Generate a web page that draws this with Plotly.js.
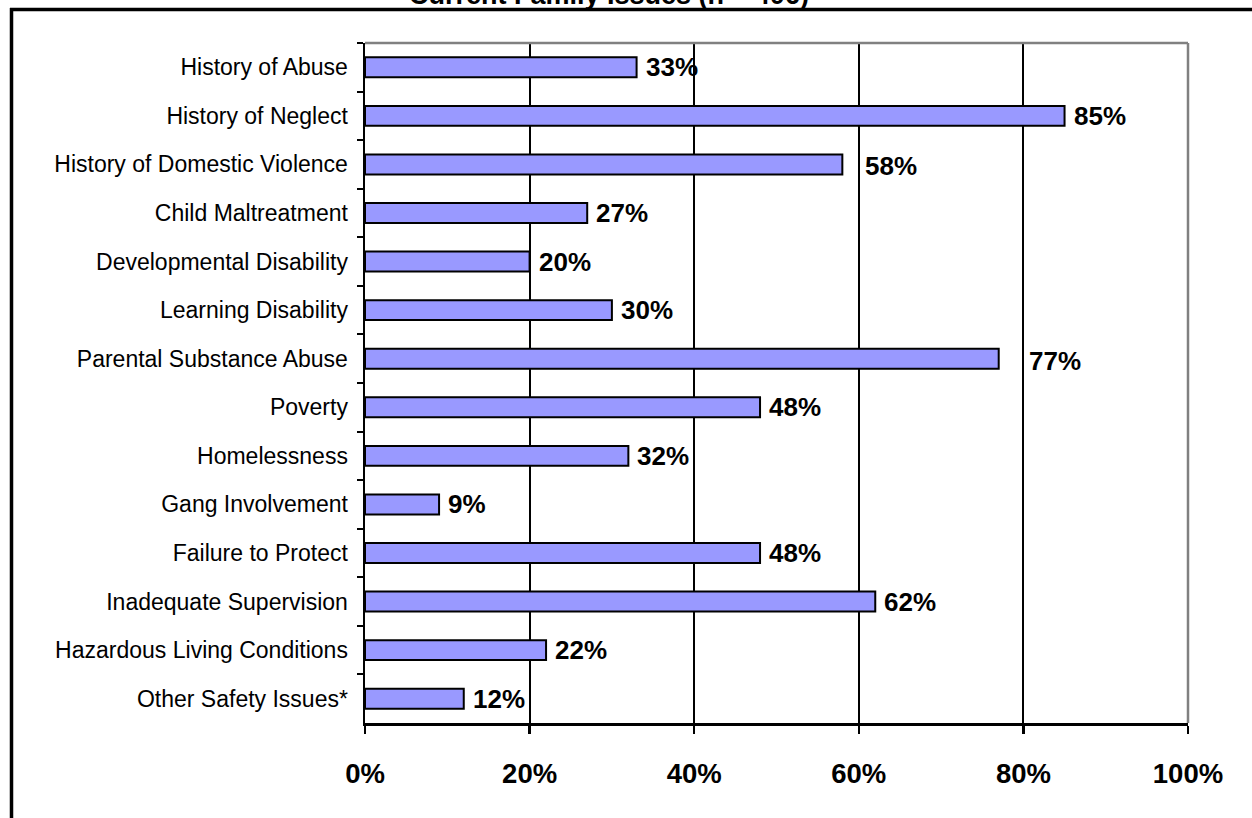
<!DOCTYPE html>
<html>
<head>
<meta charset="utf-8">
<script src="https://cdn.plot.ly/plotly-3.0.1.min.js"></script>
<style>
  html, body { margin: 0; padding: 0; background: #fff; }
  #chart { width: 1252px; height: 818px; }
</style>
</head>
<body>
<div id="chart"></div>
<script>
const titleText = "Current Family Issues (n = 406)";
const categories = [
  "History of Abuse",
  "History of Neglect",
  "History of Domestic Violence",
  "Child Maltreatment",
  "Developmental Disability",
  "Learning Disability",
  "Parental Substance Abuse",
  "Poverty",
  "Homelessness",
  "Gang Involvement",
  "Failure to Protect",
  "Inadequate Supervision",
  "Hazardous Living Conditions",
  "Other Safety Issues*"
];
const percents = [33, 85, 58, 27, 20, 30, 77, 48, 32, 9, 48, 62, 22, 12];
const tickValues = [0, 20, 40, 60, 80, 100];

const W = 1252, H = 818;
const L = 365, R = 1188, T = 43, B = 723;
const px2x = p => (p - L) / (R - L);
const px2y = p => (B - p) / (B - T);
const FONT = 'Liberation Sans, Arial, sans-serif';

const trace = {
  type: 'bar',
  orientation: 'h',
  y: categories,
  x: percents,
  marker: { color: '#9999FF', line: { color: '#000000', width: 2 } },
  cliponaxis: false,
  hoverinfo: 'skip'
};

// value labels: placed after the bar end; if a gridline sits just past the
// bar end, the label is moved to the right of that gridline (as in the original)
const valueLabels = percents.map((v, i) => {
  const nextGrid = tickValues.find(t => t > v);
  const clash = nextGrid !== undefined && nextGrid - v < 5;
  return {
    xref: 'x', yref: 'y',
    x: clash ? nextGrid : v, y: categories[i],
    text: '<b>' + v + '%</b>',
    xanchor: 'left', yanchor: 'middle',
    xshift: clash ? 4 : 7,
    yshift: clash ? -2 : 0,
    showarrow: false,
    font: { family: FONT, size: 26, color: '#000' }
  };
});

const layout = {
  width: W, height: H,
  margin: { l: L, r: W - R, t: T, b: H - B, pad: 0 },
  paper_bgcolor: '#ffffff',
  plot_bgcolor: '#ffffff',
  showlegend: false,
  bargap: 0.59,
  font: { family: FONT, color: '#000' },
  xaxis: {
    range: [0, 100],
    tickvals: tickValues,
    ticktext: tickValues.map(v => v + '%'),
    showgrid: true, gridcolor: '#000', gridwidth: 2,
    zeroline: false,
    showline: true, linecolor: '#000', linewidth: 2.5,
    ticks: 'outside', ticklen: 8, tickwidth: 2.5, tickcolor: '#000',
    ticklabelstandoff: 16,
    tickfont: { family: FONT, size: 27.5, color: '#000', weight: 'bold' },
    fixedrange: true
  },
  yaxis: {
    type: 'category',
    autorange: 'reversed',
    showline: true, linecolor: '#000', linewidth: 2.5,
    ticks: 'outside', ticklen: 6, tickwidth: 2, tickcolor: '#000',
    tickson: 'boundaries',
    ticklabelstandoff: 10,
    showgrid: false, zeroline: false,
    tickfont: { family: FONT, size: 23, color: '#000' },
    fixedrange: true
  },
  shapes: [
    { type: 'line', xref: 'paper', yref: 'paper', x0: 0, x1: 1, y0: 1, y1: 1, line: { color: '#808080', width: 2.5 }, layer: 'above' },
    { type: 'line', xref: 'paper', yref: 'paper', x0: 1, x1: 1, y0: 0, y1: 1, line: { color: '#808080', width: 2.5 }, layer: 'above' },
    { type: 'line', xref: 'paper', yref: 'paper', x0: px2x(11.5), x1: px2x(11.5), y0: px2y(8), y1: px2y(830), line: { color: '#000', width: 3.5 }, layer: 'above' },
    { type: 'line', xref: 'paper', yref: 'paper', x0: px2x(10), x1: px2x(1260), y0: px2y(9.5), y1: px2y(9.5), line: { color: '#000', width: 3.5 }, layer: 'above' }
  ],
  annotations: [
    {
      text: '<b>' + titleText + '</b>',
      xref: 'paper', yref: 'paper',
      x: px2x(609), y: px2y(-5),
      xanchor: 'center', yanchor: 'middle',
      showarrow: false,
      font: { family: FONT, size: 27, color: '#000' }
    }
  ].concat(valueLabels)
};

Plotly.newPlot('chart', [trace], layout, { displayModeBar: false, staticPlot: true });
</script>
</body>
</html>
